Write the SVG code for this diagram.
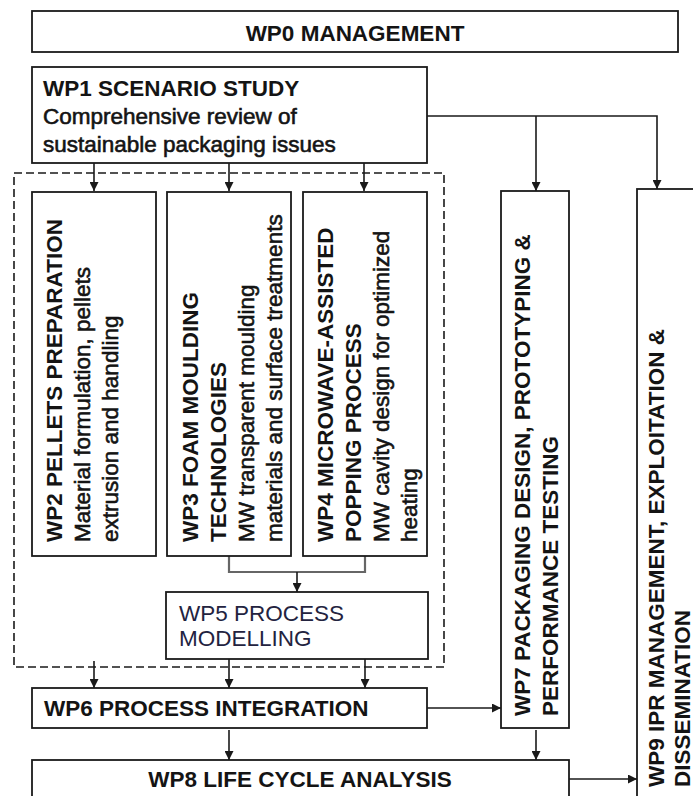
<svg xmlns="http://www.w3.org/2000/svg" width="693" height="796" viewBox="0 0 693 796">
<style>
.box{fill:#fff;stroke:#1a1a1a;stroke-width:1.8}
.t{font-family:"Liberation Sans",Arial,sans-serif;font-size:22.5px;fill:#141414}
.b{font-weight:bold}
.r{stroke:#141414;stroke-width:0.6}
.c{fill:none;stroke:#1a1a1a;stroke-width:1.6}
.g{fill:none;stroke:#666;stroke-width:2.2}
.d{fill:none;stroke:#1a1a1a;stroke-width:1.6;stroke-dasharray:8,4}
</style>
<defs>
<marker id="ah" viewBox="0 0 10 10" refX="10" refY="5" markerWidth="9" markerHeight="9" markerUnits="userSpaceOnUse" orient="auto">
<path d="M0,0 L10,5 L0,10 z" fill="#1a1a1a"/>
</marker>
</defs>
<rect class="d" x="14" y="173" width="430" height="494"/>
<g id="connectors">
<path class="c" d="M94,163 V191" marker-end="url(#ah)"/>
<path class="c" d="M229,163 V191" marker-end="url(#ah)"/>
<path class="c" d="M364,163 V191" marker-end="url(#ah)"/>
<path class="c" d="M427,116 H657 V189" marker-end="url(#ah)"/>
<path class="c" d="M536,116 V191" marker-end="url(#ah)"/>
<path class="g" d="M229,556 V572 H365 V556"/>
<path class="c" d="M297,572 V592" marker-end="url(#ah)"/>
<path class="c" d="M94,661 V688" marker-end="url(#ah)"/>
<path class="c" d="M229,659 V688" marker-end="url(#ah)"/>
<path class="c" d="M365,659 V688" marker-end="url(#ah)"/>
<path class="c" d="M427,708 H501" marker-end="url(#ah)"/>
<path class="c" d="M229,730 V760" marker-end="url(#ah)"/>
<path class="c" d="M536,730 V760" marker-end="url(#ah)"/>
<path class="c" d="M569,779 H637" marker-end="url(#ah)"/>
</g>
<g id="wp0">
<rect class="box" x="32" y="11" width="646" height="41"/>
<text class="t b" x="355" y="41" text-anchor="middle">WP0 MANAGEMENT</text>
</g>
<g id="wp1">
<rect class="box" x="32" y="67" width="395" height="96"/>
<text class="t b" x="43" y="96">WP1 SCENARIO STUDY</text>
<text class="t r" x="43" y="124">Comprehensive review of</text>
<text class="t r" x="43" y="152">sustainable packaging issues</text>
</g>
<g id="wp2">
<rect class="box" x="32" y="192" width="124" height="364"/>
<g transform="translate(62,542) rotate(-90)">
<text class="t b" x="0" y="0">WP2 PELLETS PREPARATION</text>
<text class="t r" x="0" y="28">Material formulation, pellets</text>
<text class="t r" x="0" y="56">extrusion and handling</text>
</g>
</g>
<g id="wp3">
<rect class="box" x="167" y="192" width="124" height="364"/>
<g transform="translate(198,542) rotate(-90)">
<text class="t b" x="0" y="0">WP3 FOAM MOULDING</text>
<text class="t b" x="0" y="28">TECHNOLOGIES</text>
<text class="t r" x="0" y="56">MW transparent moulding</text>
<text class="t r" x="0" y="84">materials and surface treatments</text>
</g>
</g>
<g id="wp4">
<rect class="box" x="303" y="192" width="124" height="364"/>
<g transform="translate(333,542) rotate(-90)">
<text class="t b" x="0" y="0">WP4 MICROWAVE-ASSISTED</text>
<text class="t b" x="0" y="28">POPPING PROCESS</text>
<text class="t r" x="0" y="56">MW cavity design for optimized</text>
<text class="t r" x="0" y="84">heating</text>
</g>
</g>
<g id="wp5">
<rect class="box" x="166" y="592" width="262" height="67"/>
<text class="t" x="179" y="621" style="fill:#23233f">WP5 PROCESS</text>
<text class="t" x="179" y="646" style="fill:#23233f">MODELLING</text>
</g>
<g id="wp6">
<rect class="box" x="32" y="688" width="395" height="40"/>
<text class="t b" x="44" y="716">WP6 PROCESS INTEGRATION</text>
</g>
<g id="wp7">
<rect class="box" x="501" y="191" width="68" height="537"/>
<g transform="translate(530,716) rotate(-90)">
<text class="t b" x="0" y="0">WP7 PACKAGING DESIGN, PROTOTYPING &amp;</text>
<text class="t b" x="0" y="28">PERFORMANCE TESTING</text>
</g>
</g>
<g id="wp8">
<rect class="box" x="32" y="760" width="537" height="60"/>
<text class="t b" x="300" y="787" text-anchor="middle">WP8 LIFE CYCLE ANALYSIS</text>
</g>
<g id="wp9">
<rect class="box" x="637" y="189" width="80" height="640"/>
<g transform="translate(664,787) rotate(-90)">
<text class="t b" x="0" y="0">WP9 IPR MANAGEMENT, EXPLOITATION &amp;</text>
<text class="t b" x="0" y="25.5">DISSEMINATION</text>
</g>
</g>
</svg>
